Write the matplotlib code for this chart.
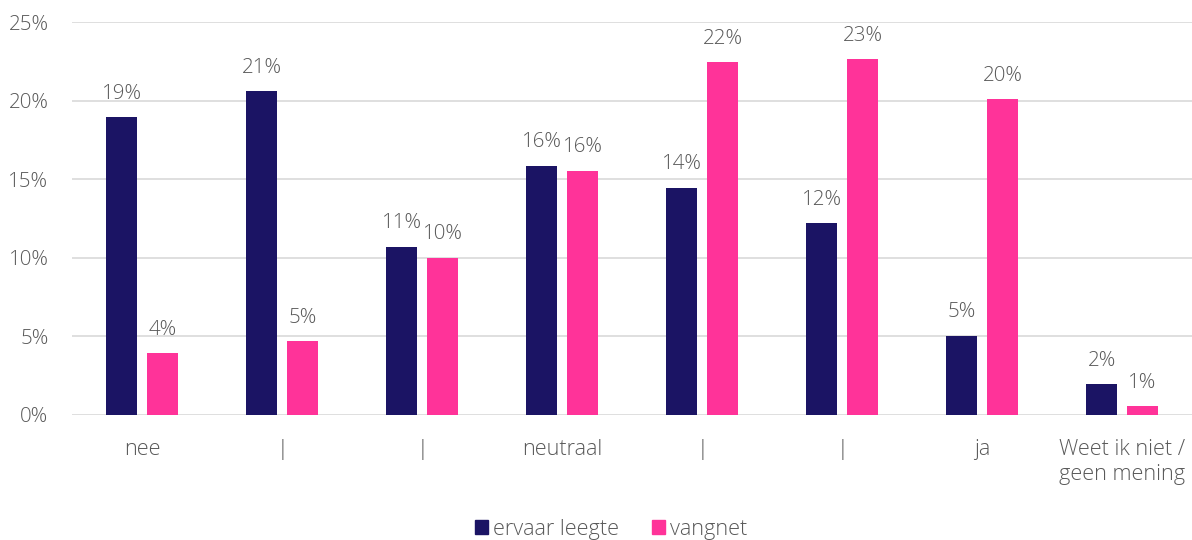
import matplotlib
matplotlib.use("Agg")
import matplotlib.pyplot as plt
import numpy as np
from matplotlib.patches import Patch

categories = ["nee", "|", "|", "neutraal", "|", "|", "ja", "Weet ik niet /\ngeen mening"]
series_names = ["ervaar leegte", "vangnet"]
ervaar_leegte = [18.96, 20.6, 10.7, 15.85, 14.45, 12.2, 5.05, 1.97]
vangnet = [3.95, 4.7, 10.0, 15.55, 22.45, 22.65, 20.1, 0.55]
y_ticks = [0, 5, 10, 15, 20, 25]

colors = ["#1B1464", "#FF3399"]
text_color = "#595959"
plt.rcParams["font.family"] = ["Open Sans", "DejaVu Sans"]
plt.rcParams["font.weight"] = 300
FS = 15.6
FS_NUM = 14.8

fig = plt.figure(figsize=(11.92, 5.40), dpi=100)
ax = fig.add_axes([72/1192, 125/540, 1 - 72/1192, 393/540])

x = np.arange(len(categories))
w = 0.22
off = 0.146
for vals, c, o in ((ervaar_leegte, colors[0], -off), (vangnet, colors[1], off)):
    bars = ax.bar(x + o, vals, width=w, color=c, zorder=3)
    for b, v in zip(bars, vals):
        ax.text(b.get_x() + b.get_width()/2, v + 0.85, f"{v:.0f}%", ha="center", va="bottom",
                fontsize=FS_NUM, color=text_color)

ax.set_xlim(-0.5, len(categories) - 0.5)
ax.set_ylim(0, 25)
ax.set_yticks(y_ticks)
ax.set_yticklabels([f"{t}%" for t in y_ticks])
ax.yaxis.grid(True, color="#D9D9D9", linewidth=1.2, zorder=0)
ax.set_xticks(x)
ax.set_xticklabels(categories, linespacing=1.3)
ax.tick_params(axis="both", length=0, colors=text_color)
ax.tick_params(axis="x", pad=17, labelsize=FS)
ax.tick_params(axis="y", pad=17, labelsize=FS_NUM)
for s in ax.spines.values():
    s.set_visible(False)
ax.set_axisbelow(True)

handles = [Patch(color=c, label=n) for c, n in zip(colors, series_names)]
leg = fig.legend(handles=handles, loc="center", bbox_to_anchor=(611/1192, 11/540), ncol=2, frameon=False,
                 fontsize=FS, handlelength=0.6, handleheight=0.6, handletextpad=0.25, columnspacing=1.5)
for t in leg.get_texts():
    t.set_color(text_color)

fig.savefig("out.png", dpi=100)
